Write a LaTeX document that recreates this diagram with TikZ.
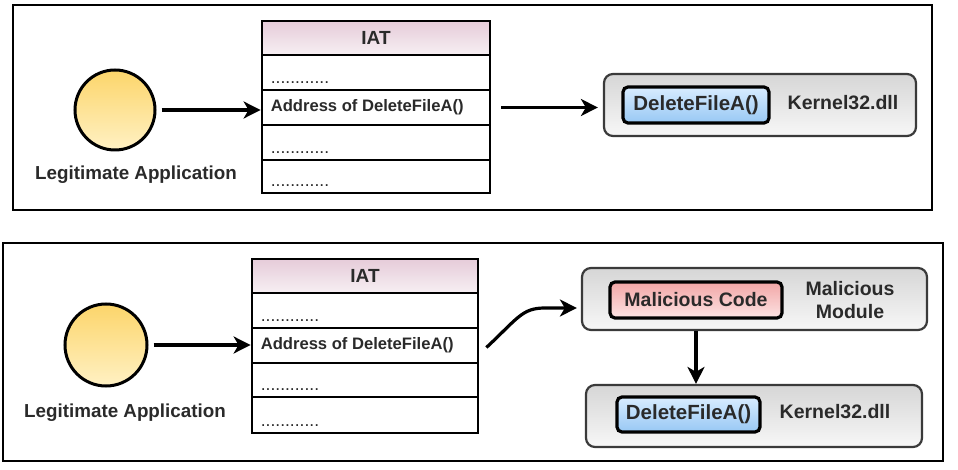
\documentclass[tikz,border=0pt]{standalone}
\usepackage{fontspec}
\setmainfont{Liberation Sans}
\usetikzlibrary{arrows.meta}
\definecolor{txt}{HTML}{2A2A2A}
\definecolor{yelTop}{HTML}{FCD56A}
\definecolor{yelBot}{HTML}{FFF1C4}
\definecolor{pinkTop}{HTML}{E6CCD9}
\definecolor{pinkBot}{HTML}{F7EFF3}
\definecolor{grayTop}{HTML}{D6D6D6}
\definecolor{grayBot}{HTML}{F7F7F7}
\definecolor{grayLine}{HTML}{3A3A3A}
\definecolor{blueTop}{HTML}{D8ECFF}
\definecolor{blueBot}{HTML}{98C8F4}
\definecolor{redTop}{HTML}{F2A6A6}
\definecolor{redBot}{HTML}{FCE3E3}
\begin{document}
\begin{tikzpicture}[x=1pt,y=-1pt,
  frame/.style={draw=black,line width=2.6pt},
  app/.style={circle,draw=black,line width=3pt,top color=yelTop,bottom color=yelBot,minimum size=#1,inner sep=0pt},
  lab/.style={font=\fontsize{18.8}{22}\selectfont\bfseries,text=txt,inner sep=0pt},
  hdr/.style={rectangle,draw=black,line width=2.8pt,top color=pinkTop,bottom color=pinkBot,inner sep=0pt,
     font=\fontsize{19}{22}\selectfont\bfseries,text=txt},
  row/.style={rectangle,draw=black,line width=2.8pt,fill=white,inner sep=0pt},
  dotsx/.style={font=\fontsize{17.5}{20}\selectfont,text=txt,inner sep=0pt,anchor=base west},
  addr/.style={font=\fontsize{16.6}{19}\selectfont\bfseries,text=txt,inner sep=0pt,anchor=west},
  module/.style={rectangle,rounded corners=9pt,draw=grayLine,line width=2.2pt,top color=grayTop,bottom color=grayBot,inner sep=0pt},
  fnblue/.style={rectangle,rounded corners=5pt,draw=black,line width=3.2pt,top color=blueTop,bottom color=blueBot,inner sep=0pt,
     font=\fontsize{20.5}{23}\selectfont\bfseries,text=txt},
  fnred/.style={rectangle,rounded corners=5pt,draw=black,line width=3.2pt,top color=redTop,bottom color=redBot,inner sep=0pt,
     font=\fontsize{19.5}{22}\selectfont\bfseries,text=txt},
  mtext/.style={font=\fontsize{19.5}{23}\selectfont\bfseries,text=txt,inner sep=0pt,align=center},
  arr/.style={draw=black,line width=3.2pt,-{Stealth[length=17pt,width=17pt,inset=5pt]}}
]
\useasboundingbox (0,0) rectangle (958,470);

% ---------------- top panel ----------------
\draw[frame] (13,5) rectangle (932,210);
\node[app=80pt] (app1) at (115,110) {};
\node[lab] (lab1) at (136,175) {Legitimate Application};

\node[hdr,minimum width=228pt,minimum height=34pt] (h1) at (376,38) {IAT};
\node[row,minimum width=228pt,minimum height=35pt] (r11) at (376,72.5) {};
\node[row,minimum width=228pt,minimum height=35pt] (r12) at (376,107.5) {};
\node[row,minimum width=228pt,minimum height=35pt] (r13) at (376,142.5) {};
\node[row,minimum width=228pt,minimum height=33pt] (r14) at (376,176.5) {};
\node[dotsx] (d11) at ([xshift=10pt,yshift=8pt]r11.south west) {............};
\node[addr] (a12) at ([xshift=10pt]r12.west) {Address of DeleteFileA()};
\node[dotsx] (d13) at ([xshift=10pt,yshift=8pt]r13.south west) {............};
\node[dotsx] (d14) at ([xshift=10pt,yshift=8pt]r14.south west) {............};

\node[module,minimum width=312pt,minimum height=62pt] (k1) at (760,105) {};
\node[fnblue,minimum width=146pt,minimum height=36pt] (f1) at (696,105) {DeleteFileA()};
\node[mtext] (kt1) at (843,103) {Kernel32.dll};

\draw[arr,shorten <=5pt] (app1.east) -- (app1.east -| r12.west);
\draw[arr,shorten <=10pt,shorten >=5pt] (r12.east) -- (r12.east -| k1.west);

% ---------------- bottom panel ----------------
\draw[frame] (3,243) rectangle (943,461);
\node[app=82pt] (app2) at (106,345) {};
\node[lab] (lab2) at (125,413) {Legitimate Application};

\node[hdr,minimum width=226pt,minimum height=34pt] (h2) at (365,276) {IAT};
\node[row,minimum width=226pt,minimum height=35pt] (r21) at (365,310.5) {};
\node[row,minimum width=226pt,minimum height=35pt] (r22) at (365,345.5) {};
\node[row,minimum width=226pt,minimum height=34pt] (r23) at (365,380) {};
\node[row,minimum width=226pt,minimum height=36pt] (r24) at (365,415) {};
\node[dotsx] (d21) at ([xshift=10pt,yshift=8pt]r21.south west) {............};
\node[addr] (a22) at ([xshift=10pt]r22.west) {Address of DeleteFileA()};
\node[dotsx] (d23) at ([xshift=10pt,yshift=8pt]r23.south west) {............};
\node[dotsx] (d24) at ([xshift=10pt,yshift=8pt]r24.south west) {............};

\node[module,minimum width=345pt,minimum height=62pt] (mm) at (754.5,299) {};
\node[fnred,minimum width=172pt,minimum height=36pt] (mc) at (696,300) {Malicious Code};
\node[mtext] (mt) at (850,300) {Malicious\\Module};

\node[module,minimum width=336pt,minimum height=62pt] (k2) at (754,416) {};
\node[fnblue,minimum width=143pt,minimum height=35pt] (f2) at (688.5,414.5) {DeleteFileA()};
\node[mtext] (kt2) at (835,412) {Kernel32.dll};

\draw[arr,shorten <=5pt] (app2.east) -- (app2.east -| r22.west);
\coordinate (c0) at ([xshift=7pt,yshift=-2pt]r22.east);
\coordinate (c1) at (545,308);
\draw[arr,shorten >=4pt] (c0) .. controls (518,318) and (522,308) .. (c1) -- (c1 -| mm.west);
\draw[arr] (mc.south |- mm.south) -- (mc.south |- k2.north);
\end{tikzpicture}
\end{document}
